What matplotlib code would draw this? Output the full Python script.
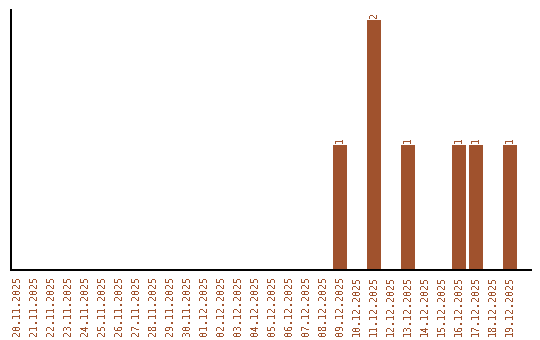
import matplotlib
matplotlib.use('Agg')
import matplotlib.pyplot as plt

dates = ['20.11.2025', '21.11.2025', '22.11.2025', '23.11.2025', '24.11.2025',
         '25.11.2025', '26.11.2025', '27.11.2025', '28.11.2025', '29.11.2025',
         '30.11.2025', '01.12.2025', '02.12.2025', '03.12.2025', '04.12.2025',
         '05.12.2025', '06.12.2025', '07.12.2025', '08.12.2025', '09.12.2025',
         '10.12.2025', '11.12.2025', '12.12.2025', '13.12.2025', '14.12.2025',
         '15.12.2025', '16.12.2025', '17.12.2025', '18.12.2025', '19.12.2025']
counts = [0, 0, 0, 0, 0, 0, 0, 0, 0, 0,
          0, 0, 0, 0, 0, 0, 0, 0, 0, 1,
          0, 2, 0, 1, 0, 0, 1, 1, 0, 1]

plt.rcParams['font.family'] = ['DejaVu Sans Mono']
plt.rcParams['text.antialiased'] = False
col = '#A0522D'

fig = plt.figure(figsize=(5.4, 3.4), dpi=100)
ax = fig.add_axes([10.5/540, 70/340, 520/540, 260/340])

x = list(range(len(dates)))
ax.bar(x, counts, width=0.82, color=col, antialiased=False)
for i, v in zip(x, counts):
    if v > 0:
        ax.text(i, v + 0.02, str(v), rotation=90, ha='center', va='bottom',
                color=col, fontsize=7.2)

ax.set_xlim(-0.38, 30.2)
ax.set_ylim(0, 2.08)
ax.set_xticks(x)
ax.set_xticklabels(dates, rotation=90, color=col, fontsize=7.2)
ax.tick_params(axis='x', length=0, pad=4)
ax.set_yticks([])
ax.spines['top'].set_visible(False)
ax.spines['right'].set_visible(False)
for s in ['left', 'bottom']:
    ax.spines[s].set_linewidth(1.2)
    ax.spines[s].set_antialiased(False)

fig.savefig('out.png', dpi=100)
